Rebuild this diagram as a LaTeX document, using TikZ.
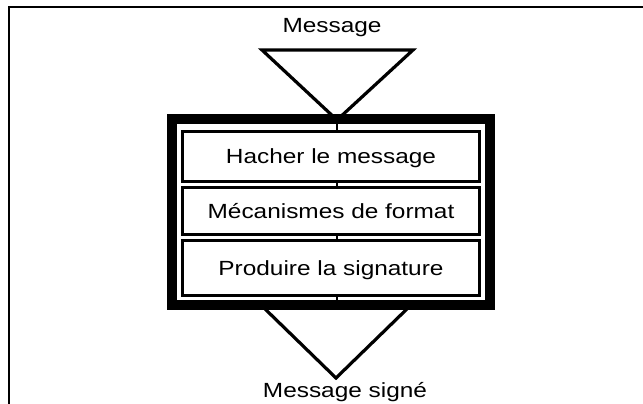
\documentclass[tikz,border=0pt]{standalone}
\usepackage{fontspec}
\setmainfont[FakeStretch=1.19]{Liberation Sans}
\begin{document}
\begin{tikzpicture}[x=1pt,y=-1pt,
  lbl/.style={font=\fontsize{20.5}{23}\selectfont, inner sep=0pt},
  stepbox/.style={draw, line width=3.2pt, minimum width=297pt, inner sep=0pt,
    text height=14.5pt, text depth=0pt, font=\fontsize{20.5}{23}\selectfont},
  heavy/.style={draw, line width=10pt, inner sep=0pt, minimum width=318pt, minimum height=186pt},
  tri/.style={line width=3.2pt, line join=miter},
  link/.style={line width=2pt}]
\useasboundingbox (0,0) rectangle (643,404);
% page frame (left and top only)
\draw[line width=2pt] (9,404) -- (9,7) -- (643,7);
% triangles
\coordinate (t1) at (262,50);
\coordinate (t2) at (413,50);
\coordinate (t3) at (337,120);
\draw[tri] (t1) -- (t2) -- (t3) -- cycle;
\coordinate (b1) at (262,306);
\coordinate (b2) at (410,306);
\coordinate (b3) at (336,378);
\draw[tri] (b1) -- (b2) -- (b3) -- cycle;
% thick frame
\node[heavy] (frame) at (331,212) {};
% steps
\node[stepbox, minimum height=50pt] (s1) at (331,156.5) {Hacher le message};
\node[stepbox, minimum height=47pt] (s2) at (331,211) {Mécanismes de format};
\node[stepbox, minimum height=55pt] (s3) at (331,268) {Produire la signature};
% connectors
\coordinate (cx) at (337,0);
\draw[link] (frame.north -| cx) -- (s1.north -| cx);
\draw[link] (s1.south -| cx) -- (s2.north -| cx);
\draw[link] (s2.south -| cx) -- (s3.north -| cx);
\draw[link] (s3.south -| cx) -- (frame.south -| cx);
% labels
\node[lbl, anchor=base] (min) at (332,33) {Message};
\node[lbl, anchor=base] (mout) at (345,397) {Message signé};
\end{tikzpicture}
\end{document}
